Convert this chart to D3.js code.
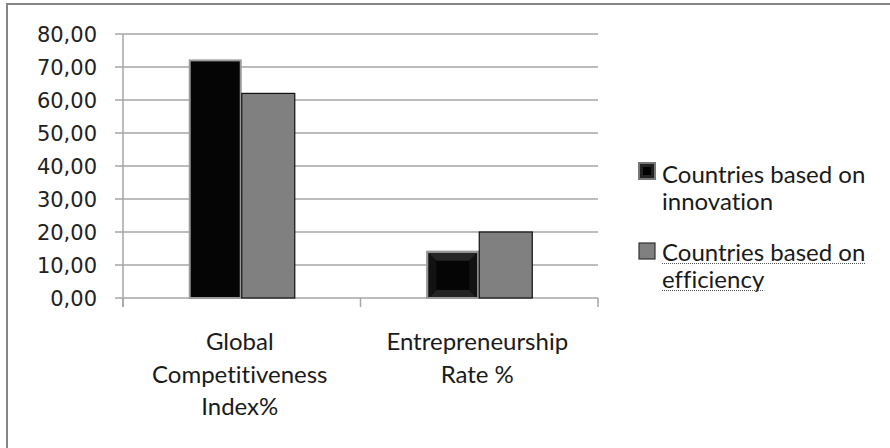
<!DOCTYPE html>
<html><head><meta charset="utf-8">
<script src="https://cdn.jsdelivr.net/npm/d3@7/dist/d3.min.js"></script>
<style>
html,body{margin:0;padding:0;background:#fff;}
svg{display:block;}
text{font-variant-ligatures:none;font-feature-settings:"liga" 0;}
</style></head>
<body><svg id="chart" width="890" height="448"></svg>
<script>
const categories = [["Global","Competitiveness","Index%"],["Entrepreneurship","Rate %"]];
const categoryKeys = ["Global Competitiveness Index%","Entrepreneurship Rate %"];
const seriesNames = ["Countries based on innovation","Countries based on efficiency"];
const innovation = [72, 14];
const efficiency = [62, 20];
const yTicks = [0,10,20,30,40,50,60,70,80];
const legendLines = [["Countries based on","innovation"],["Countries based on","efficiency"]];

const svg = d3.select("#chart");
// outer frame
svg.append("rect").attr("x",7).attr("y",4).attr("width",892).attr("height",460)
  .attr("fill","#fff").attr("stroke","#868686").attr("stroke-width",2);

const y = d3.scaleLinear().domain([0,80]).range([298,34]);
const x0 = d3.scaleBand().domain(categoryKeys).range([123,598]).padding(0);
const x1 = d3.scaleBand().domain(seriesNames).range([0,x0.bandwidth()]).paddingInner(0).paddingOuter(1.24);

// gridlines
svg.append("g").selectAll("line").data(yTicks).join("line")
  .attr("x1",115).attr("x2",598).attr("y1",d=>y(d)).attr("y2",d=>y(d))
  .attr("stroke","#a6a6a6").attr("stroke-width",1.5);
// y axis line
svg.append("line").attr("x1",123).attr("x2",123).attr("y1",y(80)).attr("y2",307)
  .attr("stroke","#a6a6a6").attr("stroke-width",1.5);
// category ticks
const catBounds = [123, 123 + x0.bandwidth(), 598];
svg.append("g").selectAll("line").data(catBounds).join("line")
  .attr("x1",d=>d).attr("x2",d=>d).attr("y1",298).attr("y2",307)
  .attr("stroke","#a6a6a6").attr("stroke-width",1.5);

// y tick labels
const fmt = d => d3.format(".2f")(d).replace(".", ",");
svg.append("g").selectAll("text").data(yTicks).join("text")
  .attr("x",97).attr("y",d=>y(d)+7.5).attr("text-anchor","end")
  .attr("font-family","DejaVu Sans").attr("font-size",21).attr("fill","#222")
  .text(fmt);

// bars
const series = [innovation, efficiency];
categoryKeys.forEach((c,i)=>{
  seriesNames.forEach((s,j)=>{
    const v = series[j][i];
    const bx = x0(c)+x1(s), bw = x1.bandwidth(), by = y(v), bh = y(0)-y(v);
    if (j===0) {
      svg.append("rect").attr("x",bx+1).attr("y",by).attr("width",bw-2).attr("height",bh)
        .attr("fill","#050505").attr("stroke","#9a9a9a").attr("stroke-width",2);
      if (i===1) {
        const b = 8;
        const g = svg.append("g");
        g.append("polygon").attr("points",[[bx+2,by+1],[bx+bw-2,by+1],[bx+bw-2-b,by+1+b],[bx+2+b,by+1+b]].join(" ")).attr("fill","#262626");
        g.append("polygon").attr("points",[[bx+2,y(0)],[bx+bw-2,y(0)],[bx+bw-2-b,y(0)-b],[bx+2+b,y(0)-b]].join(" ")).attr("fill","#222");
        g.append("polygon").attr("points",[[bx+2,by+1],[bx+2+b,by+1+b],[bx+2+b,y(0)-b],[bx+2,y(0)]].join(" ")).attr("fill","#121212");
        g.append("polygon").attr("points",[[bx+bw-2,by+1],[bx+bw-2-b,by+1+b],[bx+bw-2-b,y(0)-b],[bx+bw-2,y(0)]].join(" ")).attr("fill","#121212");
        g.append("rect").attr("x",bx+1).attr("y",by).attr("width",bw-2).attr("height",bh)
          .attr("fill","none").attr("stroke","#9a9a9a").attr("stroke-width",2);
      }
    } else {
      svg.append("rect").attr("x",bx).attr("y",by).attr("width",bw).attr("height",bh)
        .attr("fill","#808080").attr("stroke","#111").attr("stroke-width",1.2);
    }
  });
});

// category labels
const labelFont = "Lato";
const labelSize = 24;
categoryKeys.forEach((c,i)=>{
  const cx = x0(c)+x0.bandwidth()/2;
  const t = svg.append("text").attr("text-anchor","middle")
    .attr("font-family",labelFont).attr("font-size",labelSize).attr("fill","#1a1a1a");
  categories[i].forEach((line,k)=>{
    t.append("tspan").attr("x",cx-2).attr("y",350+k*32.5).text(line);
  });
});

// legend
const legY = [162, 242];
legendLines.forEach((lines,i)=>{
  const ly = legY[i];
  if (i===0) {
    svg.append("rect").attr("x",639).attr("y",ly+1).attr("width",16).attr("height",16)
      .attr("fill","#222").attr("stroke","#777").attr("stroke-width",2);
    svg.append("rect").attr("x",643).attr("y",ly+5).attr("width",8).attr("height",8).attr("fill","#000");
  } else {
    svg.append("rect").attr("x",639).attr("y",ly+1).attr("width",16).attr("height",16)
      .attr("fill","#808080").attr("stroke","#333").attr("stroke-width",1.2);
  }
  const base = i===0 ? ly+21 : ly+19;
  const t = svg.append("text").attr("font-family",labelFont).attr("font-size",labelSize).attr("fill","#1a1a1a");
  lines.forEach((line,k)=>{
    t.append("tspan").attr("x",662).attr("y",base+k*27).text(line);
  });
  if (i===1) {
    const tspans = t.selectAll("tspan").nodes();
    tspans.forEach((node,k)=>{
      const w = node.getComputedTextLength();
      svg.append("line").attr("x1",662).attr("x2",662+w).attr("y1",base+k*27+2.5).attr("y2",base+k*27+2.5)
        .attr("stroke","#555").attr("stroke-width",1).attr("stroke-dasharray","1,1");
    });
  }
});
</script></body></html>
